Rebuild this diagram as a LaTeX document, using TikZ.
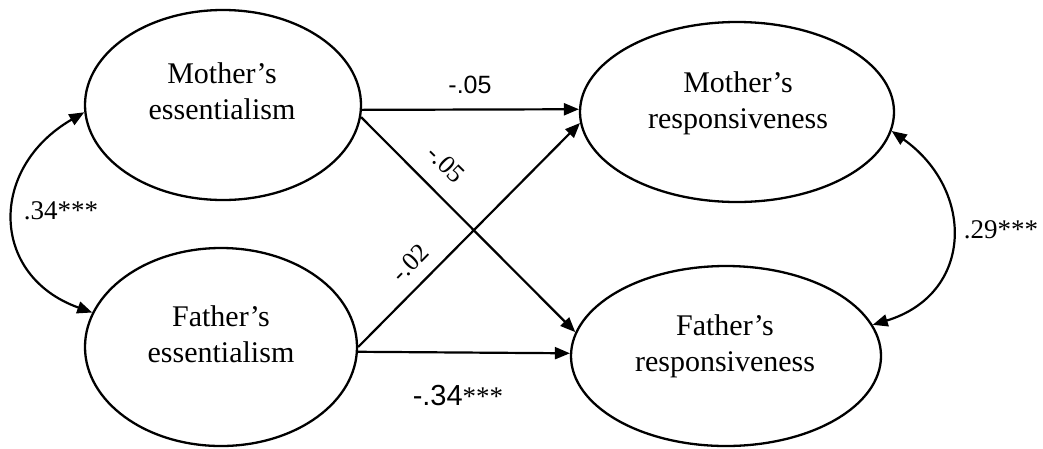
\documentclass[tikz,border=0pt]{standalone}
\usepackage{fontspec}
\setmainfont{Liberation Serif}
\newfontfamily\arialfont{Liberation Sans}
\usetikzlibrary{shapes.geometric,arrows.meta}
\tikzset{
  var/.style={draw, ellipse, line width=2.3pt, inner sep=0pt},
  vtext/.style={font=\fontsize{30}{36}\selectfont, align=center, inner sep=0pt},
  tip/.tip={Triangle[length=15pt,width=12pt]},
  pathline/.style={line width=2.2pt, -tip},
  covline/.style={line width=2.2pt, tip-tip},
  coef/.style={font=\fontsize{26}{30}\selectfont, inner sep=0pt},
  coefsans/.style={font=\arialfont\fontsize{25}{30}\selectfont, inner sep=0pt}
}
\begin{document}
\begin{tikzpicture}[x=1pt,y=-1pt]
\useasboundingbox (0,0) rectangle (1043,448);
% latent variables
\node[var, minimum width=276pt, minimum height=190pt] (me) at (223,105) {};
\node[var, minimum width=272pt, minimum height=198pt] (fe) at (221,347) {};
\node[var, minimum width=314pt, minimum height=180pt] (mr) at (737,112) {};
\node[var, minimum width=310pt, minimum height=180pt] (fr) at (726,356) {};
\node[vtext] (met) at (222,91) {Mother’s\\essentialism};
\node[vtext] (fet) at (221,334) {Father’s\\essentialism};
\node[vtext] (mrt) at (738,103) {Mother’s\\responsiveness};
\node[vtext] (frt) at (725,346) {Father’s\\responsiveness};
% paths
\draw[pathline] (me.-2) -- (mr.179);
\draw[pathline] (me.-5.4) -- (fr.171);
\draw[pathline] (fe.0) -- (mr.184);
\draw[pathline] (fe.-2.5) -- (fr.179.5);
% covariances
\draw[covline] (me.183) .. controls (-12,168) and (-10,276) .. (fe.165);
\draw[covline] (mr.-7.7) .. controls (975,190) and (974,294) .. (fr.12);
% coefficients
\node[coefsans] (c1) at (470,85) {-.05};
\node[coefsans, font=\arialfont\fontsize{29}{32}\selectfont] (c4) at (458,396) {-.34{\rmfamily\fontsize{27}{30}\selectfont ***}};
\node[coef, rotate=-44.5] (c2) at (446,164) {-.05};
\node[coef, rotate=45.5] (c3) at (410,263) {-.02};
\node[coef, font=\fontsize{27}{30}\selectfont] (r1) at (61,211) {.34***};
\node[coef, font=\fontsize{27}{30}\selectfont] (r2) at (1001,230) {.29***};
\end{tikzpicture}
\end{document}
